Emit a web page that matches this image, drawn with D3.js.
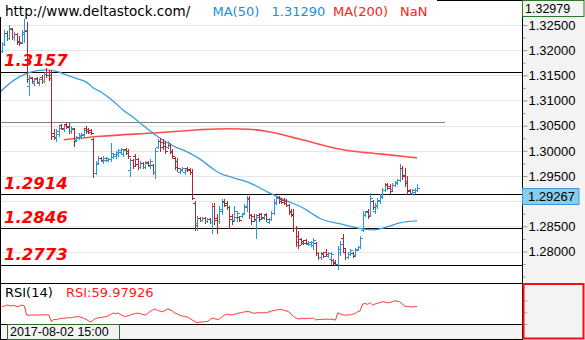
<!DOCTYPE html>
<html>
<head>
<meta charset="utf-8">
<script src="https://cdn.jsdelivr.net/npm/d3@7"></script>
<style>
  html, body { margin: 0; padding: 0; background: #fff; overflow: hidden; }
  svg { display: block; }
</style>
</head>
<body>
<svg id="chart" width="585" height="340"></svg>
<script>
// Hourly price bars: [open, high, low, close]
const priceBars = [
  [1.3198,1.3216,1.3196,1.3212],[1.3212,1.3240,1.3210,1.3234],[1.3234,1.3238,1.3220,1.3224],[1.3224,1.3250,1.3222,1.3244],
  [1.3242,1.3244,1.3222,1.3226],[1.3226,1.3236,1.3220,1.3232],[1.3232,1.3234,1.3212,1.3216],[1.3218,1.3228,1.3210,1.3214],
  [1.3216,1.3240,1.3214,1.3236],[1.3232,1.3262,1.3216,1.3240],[1.3238,1.3256,1.3136,1.3142],[1.3128,1.3150,1.3110,1.3146],
  [1.3144,1.3146,1.3136,1.3138],[1.3134,1.3144,1.3130,1.3142],[1.3144,1.3146,1.3134,1.3136],[1.3134,1.3144,1.3130,1.3142],
  [1.3146,1.3150,1.3134,1.3138],[1.3138,1.3156,1.3136,1.3152],[1.3156,1.3164,1.3146,1.3150],[1.3156,1.3160,1.3140,1.3144],
  [1.3150,1.3160,1.3024,1.3030],[1.3036,1.3044,1.3024,1.3028],[1.3026,1.3044,1.3020,1.3040],[1.3034,1.3050,1.3030,1.3046],
  [1.3052,1.3054,1.3044,1.3046],[1.3044,1.3054,1.3040,1.3052],[1.3054,1.3056,1.3046,1.3048],[1.3050,1.3056,1.3036,1.3040],
  [1.3040,1.3050,1.3036,1.3046],[1.3044,1.3046,1.3010,1.3020],[1.3022,1.3030,1.3020,1.3028],[1.3026,1.3036,1.3024,1.3032],
  [1.3030,1.3036,1.3026,1.3034],[1.3032,1.3046,1.3030,1.3042],[1.3046,1.3050,1.3036,1.3040],[1.3044,1.3046,1.3036,1.3038],
  [1.3042,1.3044,1.3034,1.3036],[1.3024,1.3026,1.2948,1.2956],[1.2956,1.2980,1.2954,1.2974],[1.2976,1.2990,1.2974,1.2986],
  [1.2986,1.2988,1.2980,1.2982],[1.2980,1.2990,1.2976,1.2986],[1.2982,1.2988,1.2980,1.2986],[1.2982,1.2986,1.2980,1.2984],
  [1.2984,1.3016,1.2980,1.2996],[1.2988,1.2996,1.2986,1.2994],[1.2990,1.3000,1.2986,1.2998],[1.2994,1.3004,1.2990,1.3002],
  [1.2998,1.3006,1.2994,1.3004],[1.2994,1.3004,1.2990,1.3002],[1.3004,1.3006,1.2994,1.2996],[1.3000,1.3004,1.2986,1.2990],
  [1.2962,1.2986,1.2950,1.2982],[1.2982,1.2984,1.2966,1.2970],[1.2990,1.2994,1.2970,1.2974],[1.2984,1.2986,1.2964,1.2968],
  [1.2968,1.2980,1.2966,1.2976],[1.2976,1.2978,1.2966,1.2968],[1.2968,1.2980,1.2966,1.2976],[1.2978,1.2980,1.2970,1.2972],
  [1.2970,1.2984,1.2966,1.2980],[1.2972,1.2974,1.2954,1.2958],[1.2958,1.3006,1.2946,1.3000],[1.3008,1.3024,1.3006,1.3020],
  [1.3020,1.3026,1.3000,1.3008],[1.3018,1.3024,1.3004,1.3010],[1.3016,1.3020,1.2996,1.3000],[1.3008,1.3020,1.3006,1.3016],
  [1.3012,1.3014,1.2996,1.2998],[1.3000,1.3004,1.2986,1.2990],[1.2986,1.2988,1.2964,1.2968],[1.2980,1.2986,1.2960,1.2966],
  [1.2958,1.2966,1.2956,1.2964],[1.2962,1.2968,1.2960,1.2966],[1.2958,1.2964,1.2954,1.2962],[1.2966,1.2968,1.2960,1.2962],
  [1.2964,1.2966,1.2954,1.2958],[1.2958,1.2964,1.2904,1.2906],[1.2896,1.2900,1.2842,1.2852],[1.2856,1.2870,1.2842,1.2866],
  [1.2866,1.2868,1.2860,1.2862],[1.2862,1.2868,1.2860,1.2866],[1.2866,1.2868,1.2856,1.2860],[1.2860,1.2866,1.2858,1.2864],
  [1.2864,1.2866,1.2856,1.2858],[1.2858,1.2896,1.2836,1.2890],[1.2890,1.2896,1.2854,1.2862],[1.2866,1.2874,1.2836,1.2860],
  [1.2860,1.2890,1.2856,1.2884],[1.2880,1.2904,1.2874,1.2898],[1.2900,1.2904,1.2890,1.2892],[1.2896,1.2900,1.2884,1.2888],
  [1.2888,1.2890,1.2846,1.2864],[1.2870,1.2874,1.2854,1.2860],[1.2862,1.2890,1.2860,1.2880],[1.2868,1.2880,1.2860,1.2876],
  [1.2868,1.2870,1.2860,1.2862],[1.2870,1.2876,1.2868,1.2874],[1.2876,1.2894,1.2874,1.2890],[1.2888,1.2910,1.2880,1.2904],
  [1.2906,1.2910,1.2866,1.2872],[1.2872,1.2874,1.2854,1.2860],[1.2870,1.2874,1.2860,1.2864],[1.2862,1.2874,1.2826,1.2868],
  [1.2872,1.2876,1.2860,1.2864],[1.2874,1.2876,1.2866,1.2868],[1.2866,1.2874,1.2864,1.2872],[1.2874,1.2876,1.2860,1.2864],
  [1.2858,1.2866,1.2856,1.2864],[1.2864,1.2880,1.2862,1.2876],[1.2876,1.2904,1.2874,1.2898],[1.2896,1.2910,1.2894,1.2906],
  [1.2908,1.2910,1.2896,1.2900],[1.2904,1.2906,1.2896,1.2898],[1.2902,1.2906,1.2894,1.2896],[1.2900,1.2904,1.2890,1.2892],
  [1.2892,1.2894,1.2874,1.2878],[1.2880,1.2884,1.2870,1.2872],[1.2874,1.2884,1.2840,1.2846],[1.2846,1.2850,1.2810,1.2818],
  [1.2830,1.2840,1.2806,1.2812],[1.2824,1.2826,1.2814,1.2816],[1.2820,1.2822,1.2814,1.2816],[1.2822,1.2824,1.2814,1.2816],
  [1.2814,1.2820,1.2812,1.2818],[1.2814,1.2820,1.2810,1.2818],[1.2812,1.2826,1.2804,1.2822],[1.2816,1.2818,1.2794,1.2798],
  [1.2798,1.2800,1.2786,1.2790],[1.2790,1.2800,1.2786,1.2796],[1.2798,1.2800,1.2790,1.2792],[1.2800,1.2804,1.2794,1.2796],
  [1.2792,1.2800,1.2790,1.2798],[1.2786,1.2800,1.2776,1.2796],[1.2784,1.2786,1.2776,1.2778],[1.2780,1.2784,1.2774,1.2776],
  [1.2776,1.2810,1.2766,1.2804],[1.2800,1.2820,1.2794,1.2814],[1.2826,1.2834,1.2800,1.2806],[1.2800,1.2804,1.2786,1.2790],
  [1.2790,1.2800,1.2788,1.2796],[1.2796,1.2804,1.2794,1.2802],[1.2798,1.2800,1.2790,1.2792],[1.2794,1.2806,1.2792,1.2802],
  [1.2804,1.2810,1.2802,1.2808],[1.2808,1.2830,1.2806,1.2826],[1.2842,1.2880,1.2840,1.2872],[1.2872,1.2880,1.2870,1.2878],
  [1.2880,1.2884,1.2866,1.2870],[1.2872,1.2916,1.2870,1.2906],[1.2900,1.2902,1.2884,1.2888],[1.2880,1.2896,1.2876,1.2892],
  [1.2890,1.2906,1.2886,1.2902],[1.2900,1.2914,1.2896,1.2910],[1.2908,1.2926,1.2906,1.2922],[1.2922,1.2936,1.2920,1.2932],
  [1.2934,1.2936,1.2924,1.2926],[1.2930,1.2934,1.2916,1.2920],[1.2924,1.2936,1.2922,1.2932],[1.2932,1.2940,1.2930,1.2938],
  [1.2936,1.2944,1.2934,1.2942],[1.2942,1.2974,1.2940,1.2966],[1.2966,1.2970,1.2944,1.2950],[1.2952,1.2966,1.2930,1.2936],
  [1.2940,1.2950,1.2914,1.2920],[1.2922,1.2924,1.2914,1.2916],[1.2916,1.2924,1.2914,1.2922],[1.2918,1.2926,1.2916,1.2922],
  [1.2922,1.2934,1.2920,1.29267]
];

// 50-period moving average, sampled at bar indices
const ma50Idx = [-1, 5, 10, 15, 18, 22, 26, 30, 34, 37, 40, 45, 49, 53, 56, 62, 67, 71, 75, 80, 86, 88, 94, 100, 108, 116, 121, 125, 129, 137, 146, 150, 156, 161, 168];
const ma50Val = [1.3116, 1.3141, 1.3154, 1.3160, 1.3161, 1.3158, 1.3151, 1.3144, 1.3137, 1.3125, 1.3117, 1.3099, 1.3081, 1.3067, 1.3055, 1.3032, 1.3016, 1.3006, 1.2998, 1.2984, 1.2962, 1.2956, 1.2946, 1.2937, 1.2917, 1.2899, 1.2889, 1.2877, 1.2865, 1.2855, 1.2845, 1.2843, 1.2849, 1.2857, 1.2861];

// 200-period moving average, sampled at bar indices
const ma200Idx = [25, 40, 63, 80, 92, 100, 108, 120, 138, 153, 168];
const ma200Val = [1.3022, 1.3029, 1.3036, 1.3042, 1.3044, 1.3043, 1.3038, 1.3024, 1.3002, 1.2994, 1.2986];

// RSI(14), one value per bar
const rsiVal = [
  59.5, 60.5, 62.4, 61.5, 60.8, 61.8, 59.5, 60.5, 62.4, 61.0,
  45.4,
  44.8, 45.6, 45.0, 45.8, 45.2, 46.0, 45.4, 45.8, 45.4,
  34.0,
  38.0, 37.5, 38.6, 39.5, 39.8,
  40.2, 41.0, 40.5, 41.8, 42.4, 42.5,
  41.5, 40.0, 38.0, 35.5, 33.4,
  37.0, 39.7, 40.5, 41.2, 41.8, 42.5,
  44.0, 46.5, 48.8, 47.5, 48.8, 46.0, 44.0, 42.5,
  44.0, 45.5, 47.0, 47.8, 48.8, 47.5, 46.0, 45.4,
  48.0, 51.5, 54.0, 55.6, 53.0, 52.0, 51.0,
  53.0, 55.6, 54.5, 52.0, 48.8,
  47.0, 45.0, 43.5, 43.0, 42.0, 39.5, 36.8, 34.5, 32.2,
  33.0, 33.5, 34.0, 34.0, 37.0, 40.2, 39.0, 38.0, 38.5,
  42.0, 45.0, 47.0, 46.0, 45.4, 46.5, 47.5, 48.8,
  49.5, 50.5, 51.5, 51.0, 49.5, 48.3, 48.8, 49.5,
  49.0, 49.3, 49.3, 50.5, 52.0, 53.0, 53.9, 54.5, 55.1,
  53.5, 52.5, 51.0, 47.0, 43.0, 40.2, 38.5,
  39.0, 39.5, 39.0, 40.0, 39.5, 40.2, 36.8, 38.0, 37.5, 38.0,
  38.5, 38.0, 38.5, 37.5, 36.8,
  49.3, 47.0, 45.4, 45.0, 45.8, 45.4, 46.5, 48.0, 51.0, 52.5,
  64.1, 65.0, 63.5, 66.4, 62.4, 64.0, 65.5, 66.5,
  68.0, 67.5, 66.5, 66.4, 68.0, 69.8, 69.0,
  68.0, 64.0, 60.7, 59.5, 59.8, 59.0, 59.5, 59.98
];

// Support / resistance levels and the marked reference line
const levelValues = [1.3157, 1.2914, 1.2846, 1.2773];
const levelLabels = ["1.3157", "1.2914", "1.2846", "1.2773"];
const refLineValue = 1.3057;

// Price axis: grid lines, labelled ticks, minor ticks
const priceGridTicks = [1.325, 1.32, 1.315, 1.31, 1.305, 1.30, 1.295, 1.29, 1.285, 1.28];
const priceLabelTicks = [1.325, 1.32, 1.315, 1.31, 1.305, 1.30, 1.295, 1.285, 1.28];
const priceMinorTicks = [1.3275, 1.3225, 1.3175, 1.3125, 1.3075, 1.3025, 1.2975, 1.2925, 1.2875, 1.2825, 1.2775, 1.275];
const rsiTicks = [30, 50, 70];

// Header and status texts
const siteText = "http://www.deltastock.com/";
const ma50Text = ["MA(50)", "1.31290"];
const ma200Text = ["MA(200)", "NaN"];
const rsiTitle = "RSI(14)";
const rsiText = "RSI:59.97926";
const topPrice = "1.32979";
const lastPrice = 1.29267;
const cursorTime = "2017-08-02 15:00";

// ---------------------------------------------------------------
const svg = d3.select("#chart");
const plotW = 522, priceBottom = 283, rsiTop = 283, rsiBottom = 324;
const BLUE = "#2e95d4", RED = "#b3262c";

const x = d3.scaleLinear().domain([0, priceBars.length - 1]).range([2, 417]);
const y = d3.scaleLinear().domain([1.28, 1.325]).range([251.5, 25]);
const yr = d3.scaleLinear().domain([30, 100]).range([rsiBottom, rsiTop]);
const crisp = v => Math.round(v) + 0.5;

svg.append("rect").attr("width", 585).attr("height", 340).attr("fill", "#fff");

const defs = svg.append("defs");
defs.append("clipPath").attr("id", "priceClip")
  .append("rect").attr("x", 0).attr("y", 0).attr("width", plotW).attr("height", priceBottom);
defs.append("clipPath").attr("id", "rsiClip")
  .append("rect").attr("x", 0).attr("y", rsiTop).attr("width", plotW).attr("height", rsiBottom - rsiTop);

// grid lines
svg.append("g").selectAll("line").data(priceGridTicks).join("line")
  .attr("x1", 0).attr("x2", plotW)
  .attr("y1", d => crisp(y(d))).attr("y2", d => crisp(y(d)))
  .attr("stroke", "#e6e6e6").attr("stroke-width", 1);

const pricePlot = svg.append("g").attr("clip-path", "url(#priceClip)");

// reference line
pricePlot.append("line")
  .attr("x1", 0).attr("x2", 445)
  .attr("y1", crisp(y(refLineValue))).attr("y2", crisp(y(refLineValue)))
  .attr("stroke", "#808080").attr("stroke-width", 1);

// level lines
pricePlot.append("g").selectAll("line").data(levelValues).join("line")
  .attr("x1", 0).attr("x2", plotW)
  .attr("y1", d => crisp(y(d))).attr("y2", d => crisp(y(d)))
  .attr("stroke", "#000").attr("stroke-width", 1);

// moving averages
const maLine = d3.line().x(d => x(d[0])).y(d => y(d[1])).curve(d3.curveMonotoneX);
pricePlot.append("path")
  .datum(ma200Idx.map((d, i) => [d, ma200Val[i]]))
  .attr("d", maLine).attr("fill", "none")
  .attr("stroke", "#ff4d4d").attr("stroke-width", 1.6);
pricePlot.append("path")
  .datum(ma50Idx.map((d, i) => [d, ma50Val[i]]))
  .attr("d", maLine).attr("fill", "none")
  .attr("stroke", "#3a9ede").attr("stroke-width", 1.3);

// OHLC bars
const barG = pricePlot.append("g").attr("shape-rendering", "crispEdges");
priceBars.forEach((b, i) => {
  const [o, h, l, c] = b;
  const col = c >= o ? BLUE : RED;
  const cx = Math.round(x(i));
  const yh = Math.round(y(h)), yl = Math.round(y(l));
  barG.append("rect").attr("x", cx).attr("y", yh).attr("width", 1)
    .attr("height", Math.max(1, yl - yh + 1)).attr("fill", col);
  barG.append("rect").attr("x", cx - 2).attr("y", Math.round(y(o))).attr("width", 2)
    .attr("height", 1).attr("fill", col);
  barG.append("rect").attr("x", cx + 1).attr("y", Math.round(y(c))).attr("width", 2)
    .attr("height", 1).attr("fill", col);
});

// level labels
svg.append("g").selectAll("text").data(levelValues).join("text")
  .attr("x", 4).attr("y", d => y(d) - 5.5)
  .attr("font-family", "DejaVu Sans").attr("font-size", 16.5)
  .attr("font-weight", "bold").attr("font-style", "italic")
  .attr("fill", "#ff0000")
  .text((d, i) => levelLabels[i]);

// header
const header = svg.append("g").attr("font-family", "DejaVu Sans").attr("font-size", 13);
header.append("text").attr("x", 5).attr("y", 15.5).attr("font-size", 13.5).attr("fill", "#000").text(siteText);
header.append("text").attr("x", 212.5).attr("y", 15.5).attr("fill", "#1c8fd6").text(ma50Text[0]);
header.append("text").attr("x", 271.5).attr("y", 15.5).attr("fill", "#1c8fd6").text(ma50Text[1]);
header.append("text").attr("x", 333).attr("y", 15.5).attr("fill", "#ff2020").text(ma200Text[0]);
header.append("text").attr("x", 400).attr("y", 15.5).attr("fill", "#ff2020").text(ma200Text[1]);

// RSI panel
svg.append("path")
  .datum(rsiVal)
  .attr("clip-path", "url(#rsiClip)")
  .attr("d", d3.line().x((d, i) => x(i)).y(d => yr(d)))
  .attr("fill", "none").attr("stroke", "#ff3838").attr("stroke-width", 1);
svg.append("text").attr("x", 5).attr("y", 297)
  .attr("font-family", "DejaVu Sans").attr("font-size", 13).attr("fill", "#000").text(rsiTitle);
svg.append("text").attr("x", 66).attr("y", 297)
  .attr("font-family", "DejaVu Sans").attr("font-size", 13).attr("fill", "#ff1a1a").text(rsiText);

// panel borders
const borders = svg.append("g").attr("stroke", "#000").attr("stroke-width", 1);
borders.append("line").attr("x1", 437).attr("x2", plotW).attr("y1", 0.5).attr("y2", 0.5);
borders.append("line").attr("x1", 0).attr("x2", plotW).attr("y1", rsiTop + 0.5).attr("y2", rsiTop + 0.5);
borders.append("line").attr("x1", 0).attr("x2", plotW).attr("y1", rsiBottom + 0.5).attr("y2", rsiBottom + 0.5);
borders.append("line").attr("x1", 0.5).attr("x2", 0.5).attr("y1", 17).attr("y2", 340);

// time strip
svg.append("rect").attr("x", 1).attr("y", rsiBottom + 1).attr("width", plotW - 1).attr("height", 14).attr("fill", "#f3f3f3");
svg.append("line").attr("x1", 0).attr("x2", plotW).attr("y1", 339.5).attr("y2", 339.5).attr("stroke", "#000");
svg.append("rect").attr("x", 7.5).attr("y", 324.5).attr("width", 112).attr("height", 15)
  .attr("fill", "#f3f3f3").attr("stroke", "#2a6e2a");
svg.append("text").attr("x", 10).attr("y", 336)
  .attr("font-family", "Liberation Sans").attr("font-size", 12.5).attr("fill", "#000").text(cursorTime);

// right price axis
svg.append("rect").attr("x", plotW).attr("y", 0).attr("width", 585 - plotW).attr("height", 340).attr("fill", "#f3f3f3");

const minorAxis = d3.axisRight(y).tickValues(priceMinorTicks.concat([1.29])).tickSize(3).tickFormat("");
const minorG = svg.append("g").attr("transform", `translate(${plotW + 0.5},0)`).call(minorAxis);
minorG.select(".domain").remove();
minorG.selectAll(".tick line").attr("stroke", "#999");

const priceAxis = d3.axisRight(y).tickValues(priceLabelTicks).tickSize(5).tickPadding(1)
  .tickFormat(d3.format(".5f"));
const axisG = svg.append("g").attr("transform", `translate(${plotW + 0.5},0)`).call(priceAxis);
axisG.select(".domain").remove();
axisG.selectAll(".tick line").attr("stroke", "#999");
axisG.selectAll(".tick text").attr("font-family", "Liberation Sans").attr("font-size", 13).attr("fill", "#000");

svg.append("line").attr("x1", plotW + 0.5).attr("x2", plotW + 0.5).attr("y1", 0).attr("y2", 340).attr("stroke", "#000");

// top price tag
svg.append("rect").attr("x", plotW + 0.5).attr("y", 0.5).attr("width", 61.5).attr("height", 16)
  .attr("fill", "#f3f3f3").attr("stroke", "#2a7a2a");
svg.append("text").attr("x", 525).attr("y", 13).attr("font-family", "Liberation Sans")
  .attr("font-size", 12.5).attr("fill", "#000").text(topPrice);

// last price tag
const lpY = Math.round(y(lastPrice)) + 0.5;
svg.append("rect").attr("x", plotW + 0.5).attr("y", lpY).attr("width", 56.5).attr("height", 16)
  .attr("fill", "#87ceee").attr("stroke", "#3a9ad9");
svg.append("text").attr("x", 528).attr("y", lpY + 12.5).attr("font-family", "Liberation Sans")
  .attr("font-size", 13).attr("fill", "#000").text(d3.format(".5f")(lastPrice));

// RSI axis box
const rsiAxis = d3.axisRight(yr).tickValues(rsiTicks).tickSize(3).tickFormat("");
const rsiAxisG = svg.append("g").attr("transform", `translate(${plotW + 2.5},0)`).call(rsiAxis);
rsiAxisG.select(".domain").remove();
rsiAxisG.selectAll(".tick line").attr("stroke", "#aaa");
svg.append("rect").attr("x", 523.5).attr("y", 284).attr("width", 60).attr("height", 54.5)
  .attr("fill", "none").attr("stroke", "#ee1111").attr("stroke-width", 2);
</script>
</body>
</html>
